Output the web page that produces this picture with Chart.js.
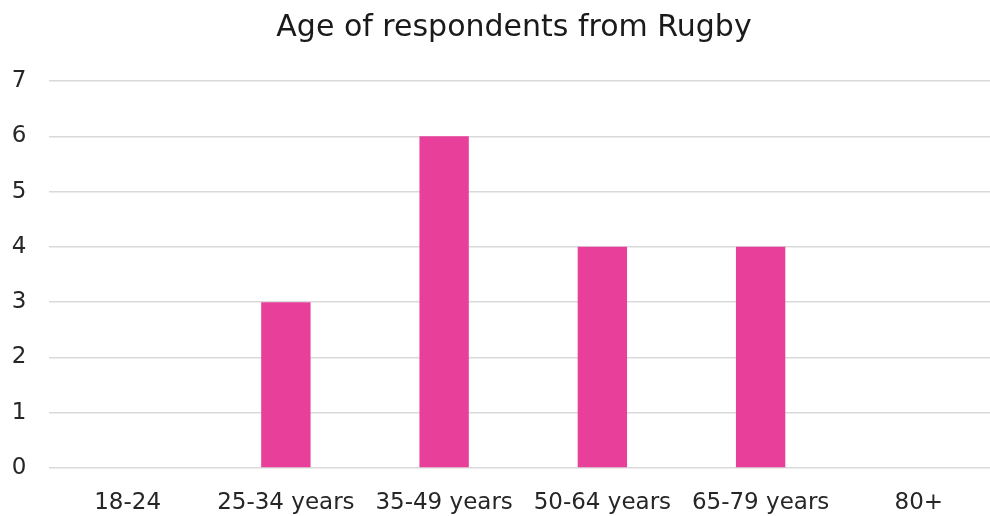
<!DOCTYPE html>
<html><head><meta charset="utf-8">
<script src="https://cdn.jsdelivr.net/npm/chart.js@4/dist/chart.umd.min.js"></script>
<style>html,body{margin:0;padding:0;overflow:hidden;background:#fff;width:990px;height:516px}</style>
</head><body>
<canvas id="c" width="1000" height="516" style="display:block;width:1000px;height:516px"></canvas>
<script>
const categories = ["18-24","25-34 years","35-49 years","50-64 years","65-79 years","80+"];
const respondents = [0,3,6,4,4,0];
const titleText = "Age of respondents from Rugby";
const FONT = "'DejaVu Sans', sans-serif";
const titlePlugin = {
  id: 'centeredTitle',
  afterDraw(chart) {
    const ctx = chart.ctx;
    ctx.save();
    ctx.font = "30px " + FONT;
    ctx.fillStyle = '#1a1a1a';
    ctx.textAlign = 'center';
    ctx.textBaseline = 'alphabetic';
    ctx.fillText(titleText, 514, 36);
    ctx.restore();
  }
};
new Chart(document.getElementById('c'), {
  type: 'bar',
  data: { labels: categories, datasets: [{ data: respondents, backgroundColor: '#E8409A', categoryPercentage: 1, barPercentage: 0.312 }] },
  options: {
    responsive: false, animation: false,
    layout: { padding: { top: 81, right: 2, bottom: 0, left: 0 } },
    plugins: {
      legend: { display: false }, tooltip: { enabled: false }, title: { display: false }
    },
    scales: {
      x: { grid: { display: false, drawTicks: false }, border: { display: false },
           ticks: { color: '#262626', font: { family: FONT, size: 23 }, padding: 21, maxRotation: 0, autoSkip: false },
           afterFit: s => { s.height = 48; } },
      y: { min: 0, max: 7, grid: { color: '#d9d9d9', lineWidth: 1.5, drawTicks: false }, border: { display: false },
           ticks: { stepSize: 1, color: '#262626', font: { family: FONT, size: 23 }, padding: 22 },
           afterFit: s => { s.width = 48.5; } }
    }
  },
  plugins: [titlePlugin]
});
</script></body></html>
